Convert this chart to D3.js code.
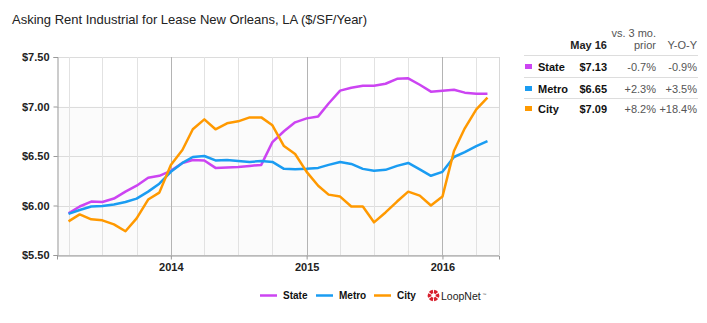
<!DOCTYPE html>
<html>
<head>
<meta charset="UTF-8">
<title>Asking Rent Industrial</title>
<style>
  body { margin: 0; background: #fff; font-family: "Liberation Sans", Arial, sans-serif; }
  svg text { font-family: "Liberation Sans", Arial, sans-serif; }
</style>
<script src="https://d3js.org/d3.v7.min.js"></script>
</head>
<body>
<script>
// monthly, Apr 2013 .. May 2016
var startMonth = "2013-04";
var stateVals = [5.92, 5.99, 6.04, 6.035, 6.07, 6.14, 6.20, 6.28, 6.30, 6.35, 6.43, 6.46, 6.455, 6.38, 6.385, 6.39,
                 6.40, 6.41, 6.64, 6.75, 6.84, 6.88, 6.90, 7.03, 7.16, 7.19, 7.21, 7.21, 7.23, 7.28, 7.285, 7.22,
                 7.15, 7.16, 7.17, 7.14, 7.13, 7.13];
var metroVals = [5.915, 5.955, 5.99, 5.995, 6.01, 6.035, 6.07, 6.14, 6.22, 6.34, 6.43, 6.49, 6.50, 6.455, 6.46, 6.45,
                 6.44, 6.45, 6.44, 6.37, 6.365, 6.37, 6.38, 6.41, 6.44, 6.42, 6.37, 6.35, 6.36, 6.40, 6.43, 6.365,
                 6.30, 6.34, 6.49, 6.54, 6.60, 6.65];
var cityVals = [5.84, 5.91, 5.86, 5.85, 5.81, 5.74, 5.87, 6.06, 6.13, 6.41, 6.56, 6.77, 6.87, 6.77, 6.83, 6.85,
                6.89, 6.89, 6.81, 6.60, 6.52, 6.34, 6.20, 6.11, 6.09, 5.99, 5.99, 5.83, 5.93, 6.04, 6.14, 6.10,
                6.00, 6.09, 6.55, 6.78, 6.97, 7.09];
var seriesNames = ["State", "Metro", "City"];
var seriesColors = ["#cc44f2", "#1a9cf2", "#ff9900"];
var yTicks = [5.5, 6.0, 6.5, 7.0, 7.5];
var yearTicks = ["2014", "2015", "2016"];
var tableHead = ["May 16", "vs. 3 mo.", "prior", "Y-O-Y"];
var tableLast = ["$7.13", "$6.65", "$7.09"];
var table3mo = ["-0.7%", "+2.3%", "+8.2%"];
var tableYoy = ["-0.9%", "+3.5%", "+18.4%"];

var W = 707, H = 323;
var m = { left: 57, right: 499, top: 57, bottom: 255 };

var svg = d3.select("body").append("svg").attr("width", W).attr("height", H);

var x = d3.scaleTime()
  .domain([new Date(2013, 2, 1), new Date(2016, 5, 1)])
  .range([m.left, m.right]);
var y = d3.scaleLinear().domain([5.5, 7.5]).range([m.bottom, m.top]);

var start = d3.timeParse("%Y-%m")(startMonth);
var dates = stateVals.map(function(d, i) { return d3.timeMonth.offset(start, i); });
var series = [stateVals, metroVals, cityVals];

// title
svg.append("text").attr("x", 12).attr("y", 24)
  .attr("font-size", 13).attr("fill", "#222")
  .text("Asking Rent Industrial for Lease New Orleans, LA ($/SF/Year)");

// plot background
svg.append("rect").attr("x", m.left).attr("y", y(7.0)).attr("width", m.right - m.left)
  .attr("height", m.bottom - y(7.0)).attr("fill", "#fbfbfb");

// horizontal grid
svg.selectAll(".hg").data(yTicks).enter().append("line")
  .attr("x1", m.left).attr("x2", m.right)
  .attr("y1", function(d) { return Math.round(y(d)) + 0.5; })
  .attr("y2", function(d) { return Math.round(y(d)) + 0.5; })
  .attr("stroke", "#dcdcdc").attr("stroke-width", 1);

// vertical grid, quarterly
var quarters = d3.timeMonth.range(new Date(2013, 3, 1), new Date(2016, 5, 1), 3);
svg.selectAll(".vg").data(quarters).enter().append("line")
  .attr("x1", function(d) { return Math.round(x(d)) + 0.5; })
  .attr("x2", function(d) { return Math.round(x(d)) + 0.5; })
  .attr("y1", m.top).attr("y2", m.bottom)
  .attr("stroke", function(d) { return d.getMonth() === 0 ? "#b4b4b4" : "#e2e2e2"; })
  .attr("stroke-width", 1);

// right border
svg.append("line").attr("x1", m.right + 0.5).attr("x2", m.right + 0.5)
  .attr("y1", m.top).attr("y2", m.bottom)
  .attr("stroke", "#d8d8d8");

// y axis
var yAxis = svg.append("g").attr("transform", "translate(" + (m.left + 0.5) + ",0)")
  .call(d3.axisLeft(y).tickValues(yTicks).tickSize(4).tickPadding(4)
    .tickFormat(function(d) { return "$" + d3.format(".2f")(d); }));
yAxis.select(".domain").attr("stroke", "#999");
yAxis.selectAll(".tick line").attr("stroke", "#999");
yAxis.selectAll("text").attr("font-size", 11).attr("font-weight", "bold")
  .attr("fill", "#222").attr("font-family", "Liberation Sans, Arial, sans-serif");

// x axis
var years = yearTicks.map(function(s) { return new Date(+s, 0, 1); });
var xAxis = svg.append("g").attr("transform", "translate(0," + (m.bottom + 0.5) + ")")
  .call(d3.axisBottom(x).tickValues(years).tickSize(4).tickPadding(4)
    .tickFormat(d3.timeFormat("%Y")));
xAxis.select(".domain").attr("stroke", "#999");
xAxis.selectAll(".tick line").attr("stroke", "#999");
xAxis.selectAll("text").attr("font-size", 11).attr("font-weight", "bold")
  .attr("fill", "#222").attr("font-family", "Liberation Sans, Arial, sans-serif");

// lines
var line = d3.line()
  .x(function(d, i) { return x(dates[i]); })
  .y(function(d) { return y(d); });
svg.selectAll(".series").data(series).enter().append("path")
  .attr("d", line)
  .attr("fill", "none")
  .attr("stroke", function(d, i) { return seriesColors[i]; })
  .attr("stroke-width", 2.5)
  .attr("stroke-linejoin", "round");

// table at right
var tbl = svg.append("g");
var c1 = 607, c2 = 656, c3 = 697;
tbl.append("text").attr("x", c2).attr("y", 37).attr("text-anchor", "end")
  .attr("font-size", 11).attr("fill", "#555").text(tableHead[1]);
tbl.append("text").attr("x", c1).attr("y", 49).attr("text-anchor", "end")
  .attr("font-size", 11).attr("font-weight", "bold").attr("fill", "#222").text(tableHead[0]);
tbl.append("text").attr("x", c2).attr("y", 49).attr("text-anchor", "end")
  .attr("font-size", 11).attr("fill", "#555").text(tableHead[2]);
tbl.append("text").attr("x", c3).attr("y", 49).attr("text-anchor", "end")
  .attr("font-size", 11).attr("fill", "#555").text(tableHead[3]);

var rowY = [71, 93, 113];
var sepY = [55.5, 77.5, 98.5];
sepY.forEach(function(sy) {
  tbl.append("line").attr("x1", 524).attr("x2", 698).attr("y1", sy).attr("y2", sy)
    .attr("stroke", "#ddd");
});
seriesNames.forEach(function(n, i) {
  var ry = rowY[i];
  tbl.append("rect").attr("x", 525).attr("y", ry - 7).attr("width", 7).attr("height", 5)
    .attr("fill", seriesColors[i]);
  tbl.append("text").attr("x", 538).attr("y", ry).attr("font-size", 11).attr("font-weight", "bold")
    .attr("fill", "#111").text(n);
  tbl.append("text").attr("x", c1).attr("y", ry).attr("text-anchor", "end").attr("font-size", 11)
    .attr("font-weight", "bold").attr("fill", "#111").text(tableLast[i]);
  tbl.append("text").attr("x", c2).attr("y", ry).attr("text-anchor", "end").attr("font-size", 11)
    .attr("fill", "#555").text(table3mo[i]);
  tbl.append("text").attr("x", c3).attr("y", ry).attr("text-anchor", "end").attr("font-size", 11)
    .attr("fill", "#555").text(tableYoy[i]);
});

// legend
var legX = [260, 316, 374];
var leg = svg.append("g");
seriesNames.forEach(function(n, i) {
  leg.append("line").attr("x1", legX[i]).attr("x2", legX[i] + 17).attr("y1", 295.5).attr("y2", 295.5)
    .attr("stroke", seriesColors[i]).attr("stroke-width", 2.5);
  leg.append("text").attr("x", legX[i] + 23).attr("y", 299).attr("font-size", 10)
    .attr("font-weight", "bold").attr("fill", "#111").text(n);
});

// LoopNet logo
var logo = leg.append("g").attr("transform", "translate(433.5,295.5)");
d3.range(6).forEach(function(k) {
  var a0 = k * Math.PI / 3 + 0.12, a1 = (k + 1) * Math.PI / 3 - 0.12;
  logo.append("path")
    .attr("d", d3.arc().innerRadius(2.2).outerRadius(5.8)({ startAngle: a0, endAngle: a1 }))
    .attr("fill", "#d81e2c");
});
var brand = leg.append("text").attr("x", 441).attr("y", 299.5).attr("font-size", 10.5)
  .attr("font-family", "Liberation Serif, Times New Roman, serif").attr("fill", "#222").text("LoopNet");
var bw = brand.node().getComputedTextLength();
leg.append("text").attr("x", 441 + bw + 1.5).attr("y", 296).attr("font-size", 4)
  .attr("fill", "#555").text("\u2122");
</script>
</body>
</html>
